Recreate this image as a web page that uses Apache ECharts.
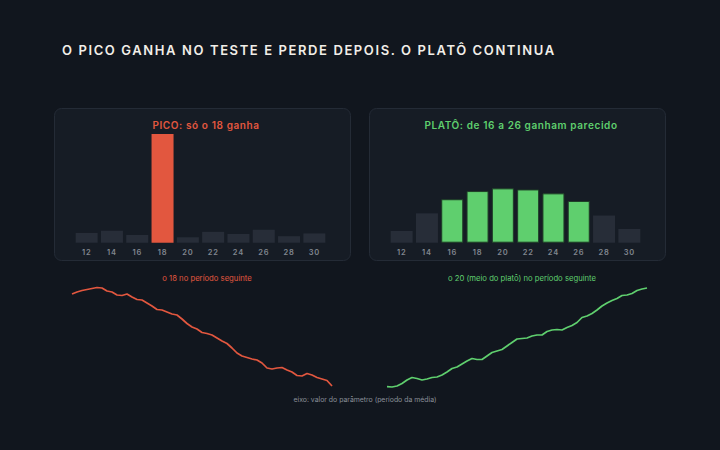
<!DOCTYPE html>
<html><head><meta charset="utf-8">
<script src="https://cdn.jsdelivr.net/npm/echarts@6/dist/echarts.min.js"></script>
<style>
html,body{margin:0;padding:0;background:#11161e;}#c{width:720px;height:450px;}
#c text[style*="Roboto"], #c text[font-family*="Roboto"]{letter-spacing:1.6px;}
#c text[style*="Lato"], #c text[font-family*="Lato"]{letter-spacing:0.6px;}
#c text[style*="Open Sans"], #c text[font-family*="Open Sans"]{letter-spacing:0.8px;}
</style>
</head><body><div id="c"></div>
<script>
const categories = ['12','14','16','18','20','22','24','26','28','30'];
const picoScores = [9, 11, 7, 100, 5, 10, 8, 12, 6, 8.5];
const platoScores = [10.8, 27, 40, 47.5, 50, 49, 45.4, 38.4, 25, 12.6];
const picoWinners = ['18'];
const platoWinners = ['16','18','20','22','24','26'];
const picoNext = [106,108,109.5,110.5,111.5,112.5,112,109,108,105,104.5,106,103,100.5,100,97,94,90.5,90,88,86,85,81,76.5,73,71,67.5,66.5,65,62,59,56.5,52,47,44,42.5,41,40,37,32,31,32,32.5,30,28,24.5,24,26.5,25,22.5,21,19.5,14];
const platoNext = [13.3,13,14,16.5,20,22.5,21.5,20,21,22.5,23,25,28,31.5,33,36,39,41.5,40.5,40.5,44,47.5,49,50.5,54,57.5,61,61.5,62,64,65,65,68.5,70,70.5,70,72.5,74.5,77.5,82.5,84,86.5,90,94,97,99.5,101.5,104.5,105,106.5,109.5,111,112];

const RED = '#e2573f', GREEN = '#5fcf6e', GRAY = '#272d38';
const fTitle = 'Inter, Roboto, sans-serif';
const fPanel = 'Inter, Lato, sans-serif';
const fTick = 'Inter, "Open Sans", sans-serif';
const fPlain = 'Inter, sans-serif';
const chart = echarts.init(document.getElementById('c'), null, { renderer: 'svg' });
const idx = picoNext.map((_, i) => i);

function barData(vals, winners, color, border) {
  return vals.map((v, i) => ({
    value: v,
    itemStyle: winners.includes(categories[i])
      ? { color: color, borderColor: border, borderWidth: border ? 1 : 0 }
      : { color: GRAY }
  }));
}
const xCat = (gi) => ({
  type: 'category', gridIndex: gi, data: categories,
  axisLine: { show: false }, axisTick: { show: false },
  axisLabel: { color: '#80868f', fontSize: 7.5, margin: 6, fontFamily: fTick, fontWeight: 600 }
});
const yVal = (gi) => ({ type: 'value', gridIndex: gi, min: 0, max: 100, show: false });
const xLine = (gi) => ({ type: 'category', gridIndex: gi, data: idx, boundaryGap: false, show: false });
const yLine = (gi) => ({ type: 'value', gridIndex: gi, min: 10, max: 115, show: false });

chart.setOption({
  backgroundColor: '#11161e',
  animation: false,
  graphic: [
    { type: 'rect', shape: { x: 54.5, y: 108.5, width: 296, height: 152, r: 7 }, style: { fill: '#161c25', stroke: '#242b36', lineWidth: 1 }, z: -10 },
    { type: 'rect', shape: { x: 369.5, y: 108.5, width: 296, height: 152, r: 7 }, style: { fill: '#161c25', stroke: '#242b36', lineWidth: 1 }, z: -10 }
  ],
  title: [
    { text: 'O PICO GANHA NO TESTE E PERDE DEPOIS. O PLATÔ CONTINUA', left: 57, top: 38,
      textStyle: { color: '#f1eee8', fontSize: 13, fontWeight: 600, fontFamily: fTitle } },
    { text: 'PICO: só o 18 ganha', left: 201, top: 115, textAlign: 'center',
      textStyle: { color: RED, fontSize: 10, fontWeight: 600, fontFamily: fPanel } },
    { text: 'PLATÔ: de 16 a 26 ganham parecido', left: 516, top: 115, textAlign: 'center',
      textStyle: { color: GREEN, fontSize: 10, fontWeight: 600, fontFamily: fPanel } },
    { text: 'o 18 no período seguinte', left: 202, top: 269, textAlign: 'center',
      textStyle: { color: RED, fontSize: 7.7, fontWeight: 400, fontFamily: fPlain } },
    { text: 'o 20 (meio do platô) no período seguinte', left: 517, top: 269, textAlign: 'center',
      textStyle: { color: GREEN, fontSize: 7.7, fontWeight: 400, fontFamily: fPlain } },
    { text: 'eixo: valor do parâmetro (período da média)', left: 360, top: 391, textAlign: 'center',
      textStyle: { color: '#8a9099', fontSize: 6.9, fontWeight: 400, fontFamily: fPlain } }
  ],
  grid: [
    { left: 74, top: 134, width: 253, height: 108.7 },
    { left: 389, top: 134, width: 253, height: 108.7 },
    { left: 72, top: 285, width: 260, height: 105 },
    { left: 387, top: 285, width: 260, height: 105 }
  ],
  xAxis: [xCat(0), xCat(1), xLine(2), xLine(3)],
  yAxis: [yVal(0), yVal(1), yLine(2), yLine(3)],
  series: [
    { type: 'bar', xAxisIndex: 0, yAxisIndex: 0, barCategoryGap: '13%', data: barData(picoScores, picoWinners, RED, null) },
    { type: 'bar', xAxisIndex: 1, yAxisIndex: 1, barCategoryGap: '13%', data: barData(platoScores, platoWinners, GREEN, '#1f3d27') },
    { type: 'line', xAxisIndex: 2, yAxisIndex: 2, data: picoNext, showSymbol: false, lineStyle: { color: RED, width: 1.7 } },
    { type: 'line', xAxisIndex: 3, yAxisIndex: 3, data: platoNext, showSymbol: false, lineStyle: { color: GREEN, width: 1.7 } }
  ]
});
</script></body></html>
